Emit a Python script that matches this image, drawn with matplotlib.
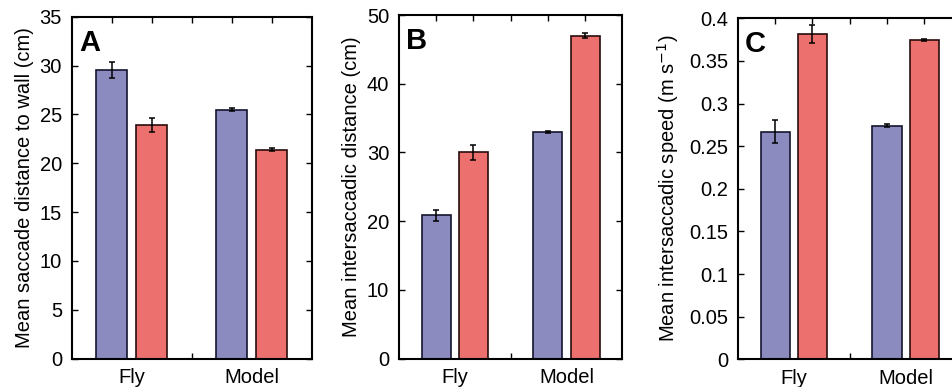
import matplotlib
matplotlib.use("Agg")
import matplotlib.pyplot as plt
import numpy as np

plt.rcParams['font.family'] = ['Liberation Sans', 'DejaVu Sans']

groups = ["Fly", "Model"]

# Panel A: mean saccade distance to wall (cm)
a_blue = [29.55, 25.5]
a_blue_err = [0.85, 0.2]
a_red = [23.9, 21.4]
a_red_err = [0.7, 0.15]

# Panel B: mean intersaccadic distance (cm)
b_blue = [20.9, 33.0]
b_blue_err = [0.8, 0.15]
b_red = [30.0, 47.0]
b_red_err = [1.05, 0.4]

# Panel C: mean intersaccadic speed (m s^-1)
c_blue = [0.267, 0.274]
c_blue_err = [0.0137, 0.002]
c_red = [0.3816, 0.3746]
c_red_err = [0.0103, 0.0015]

BLUE = '#8c8bc0'
RED = '#ec706d'
BLUE_EDGE = '#15152e'
RED_EDGE = '#2a0d0d'

fig = plt.figure(figsize=(9.53, 3.87), dpi=100)

positions = [
    (0.0752, 0.0731, 0.2518, 0.8837),
    (0.4186, 0.0731, 0.2345, 0.8881),
    (0.7742, 0.0716, 0.2348, 0.8811),
]

panels = [
    ("A", a_blue, a_blue_err, a_red, a_red_err, (0, 35), np.arange(0, 36, 5),
     [str(v) for v in range(0, 36, 5)], "Mean saccade distance to wall (cm)", -0.158),
    ("B", b_blue, b_blue_err, b_red, b_red_err, (0, 50), np.arange(0, 51, 10),
     [str(v) for v in range(0, 51, 10)], "Mean intersaccadic distance (cm)", -0.168),
    ("C", c_blue, c_blue_err, c_red, c_red_err, (0, 0.4), np.linspace(0, 0.4, 9),
     ["0", "0.05", "0.1", "0.15", "0.2", "0.25", "0.3", "0.35", "0.4"],
     r"Mean intersaccadic speed (m s$^{-1}$)", -0.255),
]

x = np.arange(1, len(groups) + 1)
off = 1.0 / 6.0
w = 0.26

for pos, (letter, bv, be, rv, re, ylim, yt, ytl, ylab, lx) in zip(positions, panels):
    ax = fig.add_axes(pos)
    ax.bar(x - off, bv, width=w, color=BLUE, edgecolor=BLUE_EDGE, linewidth=1.2, zorder=2)
    ax.bar(x + off, rv, width=w, color=RED, edgecolor=RED_EDGE, linewidth=1.2, zorder=2)
    ax.errorbar(x - off, bv, yerr=be, fmt='none', ecolor='black', elinewidth=1.1,
                capsize=2.5, capthick=1.1, zorder=3)
    ax.errorbar(x + off, rv, yerr=re, fmt='none', ecolor='black', elinewidth=1.1,
                capsize=2.5, capthick=1.1, zorder=3)
    ax.set_xlim(0.5, 2.5)
    ax.set_ylim(*ylim)
    ax.set_yticks(yt)
    ax.set_yticklabels(ytl)
    ax.set_xticks(x)
    ax.set_xticklabels(groups)
    ax.set_xticks([1 - off, 1 + off, 1.5, 2 - off, 2 + off], minor=True)
    ax.tick_params(axis='x', which='major', length=0, pad=7, labelsize=14.5)
    ax.tick_params(axis='x', which='minor', direction='in', length=4, width=1.0,
                   top=True, bottom=True)
    ax.tick_params(axis='y', which='major', direction='in', length=4, width=1.0,
                   left=True, right=True, labelsize=14.5, pad=7)
    for s in ax.spines.values():
        s.set_linewidth(1.5)
        s.set_zorder(4)
    ax.set_ylabel(ylab, fontsize=14.5)
    ax.yaxis.set_label_coords(lx, 0.5)
    ax.text(0.03, 0.965, letter, transform=ax.transAxes, fontsize=21, fontweight='bold',
            ha='left', va='top')

fig.savefig("out.png", dpi=100)
